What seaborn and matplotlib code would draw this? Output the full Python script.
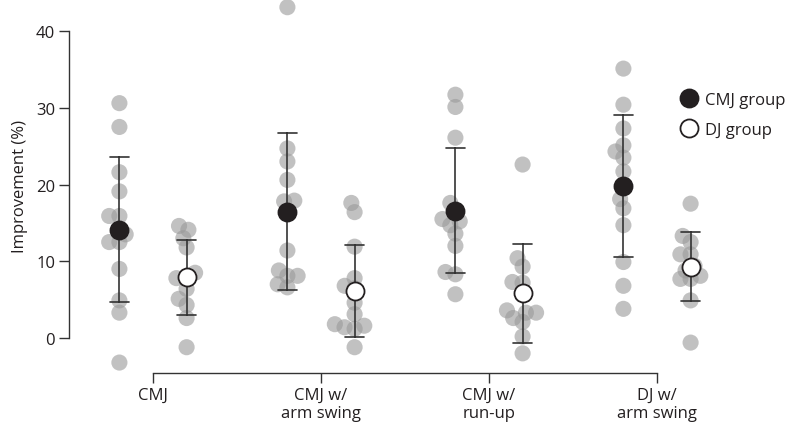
import pandas as pd
import matplotlib
matplotlib.use("Agg")
import matplotlib.pyplot as plt
import seaborn as sns

# Test conditions and groups
tests = ["CMJ", "CMJ w/\narm swing", "CMJ w/\nrun-up", "DJ w/\narm swing"]
groups = ["CMJ group", "DJ group"]

# Individual improvements (%), CMJ group
cmj_g_cmj = [30.6, 27.5, 21.6, 19.1, 15.9, 15.9, 13.5, 12.5, 12.5, 9.0, 4.9, 3.3, -3.2]
cmj_g_arm = [43.1, 24.7, 23.0, 20.6, 17.8, 17.9, 16.6, 11.4, 8.8, 8.1, 8.1, 7.0, 6.6]
cmj_g_run = [31.7, 30.1, 26.1, 17.6, 16.5, 15.5, 14.7, 15.2, 13.6, 12.0, 8.3, 8.6, 5.7]
cmj_g_dj = [35.1, 30.4, 27.3, 25.1, 24.3, 23.5, 21.7, 18.1, 16.9, 14.7, 9.9, 6.8, 3.8]

# DJ group
dj_g_cmj = [14.1, 14.6, 13.0, 11.8, 7.8, 8.5, 7.8, 6.4, 5.1, 4.3, 2.6, -1.2]
dj_g_arm = [16.4, 17.6, 11.9, 7.8, 6.5, 6.8, 4.6, 3.1, 1.6, 1.2, 1.4, 1.8, -1.2]
dj_g_run = [22.6, 10.4, 9.3, 7.3, 7.2, 3.3, 2.1, 3.6, 2.6, 3.3, 0.2, -2.0]
dj_g_dj = [17.5, 13.3, 12.5, 10.9, 10.9, 9.4, 8.1, 8.8, 7.7, 7.7, 4.9, -0.6]

rows = []
for test, vals in zip(tests, [cmj_g_cmj, cmj_g_arm, cmj_g_run, cmj_g_dj]):
    rows += [(test, "CMJ group", v) for v in vals]
for test, vals in zip(tests, [dj_g_cmj, dj_g_arm, dj_g_run, dj_g_dj]):
    rows += [(test, "DJ group", v) for v in vals]
df = pd.DataFrame(rows, columns=["test", "group", "improvement"])

sns.set_style("ticks")
plt.rcParams["font.family"] = ["Open Sans", "DejaVu Sans"]
plt.rcParams["font.size"] = 12
dark = "#231f20"

fig = plt.figure(figsize=(7.87, 4.31), dpi=100)
ax = fig.add_axes([69 / 787, 57 / 431, 714 / 787, 374 / 431])

# individual points (swarm laid out with a smaller size, drawn larger so they overlap)
sns.swarmplot(data=df, x="test", y="improvement", hue="group", order=tests,
              hue_order=groups, dodge=True, size=7,
              palette={"CMJ group": "#999999", "DJ group": "#999999"},
              alpha=0.6, linewidth=0, legend=False, ax=ax)

# mean +/- SD
sns.pointplot(data=df, x="test", y="improvement", hue="group", order=tests,
              hue_order=groups, dodge=0.4, errorbar="sd", capsize=0.11,
              linestyle="none", markers="o", markersize=13, markeredgewidth=1.3,
              palette={"CMJ group": dark, "DJ group": dark},
              err_kws={"color": "#333333", "linewidth": 1.2},
              legend=False, ax=ax)

ax.set_xlim(-0.5, 3.75)
ax.set_ylim(-4.56, 44.17)
ax.set_yticks([0, 10, 20, 30, 40])
ax.set_xlabel("")
ax.set_ylabel("Improvement (%)", color=dark, labelpad=6)
ax.tick_params(length=7, width=1, color="#333333", labelcolor=dark, pad=3)
for s in ax.spines.values():
    s.set_color("#333333")
    s.set_linewidth(1)
sns.despine(ax=ax, trim=True)

fig.canvas.draw()
for coll in ax.collections:
    if "draw" in coll.__dict__:
        del coll.draw
    coll.set_sizes([135])
    coll.set_zorder(1)

mean_lines = [l for l in ax.lines if l.get_marker() == "o"]
for l in mean_lines:
    l.set_zorder(4)
mean_lines[1].set_markerfacecolor("white")

ax.legend(mean_lines, groups, loc="center left", bbox_to_anchor=(0.845, 0.69),
          frameon=False, borderpad=0, handlelength=1.0, handletextpad=0.45,
          labelspacing=0.85, numpoints=1, labelcolor=dark)

fig.savefig("out.png", dpi=100)
